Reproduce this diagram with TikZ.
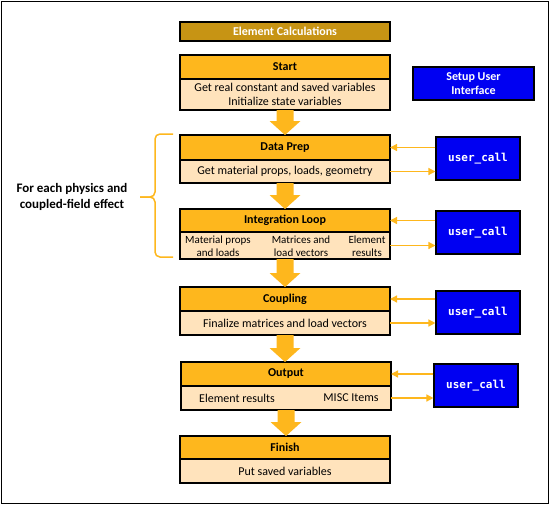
\documentclass[tikz,border=0pt]{standalone}
\usepackage{fontspec}
\setmainfont{Carlito}
\newfontfamily\ucfont{DejaVu Sans Mono}
\usetikzlibrary{positioning,calc,arrows.meta}

\definecolor{hdrgold}{RGB}{254,183,29}
\definecolor{bodytan}{RGB}{255,227,188}
\definecolor{calcgold}{RGB}{199,148,20}
\definecolor{ucblue}{RGB}{0,0,242}

\tikzset{
	hdrbox/.style={draw, line width=1.1pt, fill=hdrgold, minimum width=210pt, minimum height=24pt,
		inner sep=0pt, outer sep=0pt, font=\bfseries\fontsize{12}{14}\selectfont},
	bodybox/.style={draw, line width=1.1pt, fill=bodytan, minimum width=210pt, minimum height=24pt,
		inner sep=0pt, outer sep=0pt, align=center, font=\fontsize{12}{14.5}\selectfont},
	calcbox/.style={draw, line width=1.1pt, fill=calcgold, text=white, minimum width=210pt, minimum height=19pt,
		inner sep=0pt, font=\bfseries\fontsize{12}{14}\selectfont},
	userbox/.style={draw, line width=1.1pt, fill=ucblue, text=white, minimum width=84pt, minimum height=43pt,
		inner sep=0pt, align=center, font=\ucfont\bfseries\fontsize{11}{13}\selectfont},
	celltext/.style={align=center, inner sep=0pt, font=\fontsize{11}{13.5}\selectfont},
	callarrow/.style={draw=hdrgold, line width=1.3pt, -{Triangle[length=7pt,width=7pt]}},
}

% big gold arrow from one box down to the next
\newcommand\flowarrow[2]{%
	\fill[hdrgold] ($(#1.south)+(-8.5,0)$) -- ($(#1.south)+(8.5,0)$)
		-- ($(#1.south |- #2.north)+(8.5,-14)$) -- ($(#1.south |- #2.north)+(15.5,-14)$)
		-- (#1.south |- #2.north)
		-- ($(#1.south |- #2.north)+(-15.5,-14)$) -- ($(#1.south |- #2.north)+(-8.5,-14)$) -- cycle;}

\begin{document}
\begin{tikzpicture}[x=1pt, y=-1pt]
	\useasboundingbox (0,0) rectangle (549,504);
	\draw[line width=1pt] (1,1) rectangle (548,503);
	
	\node[calcbox] (calc) at (285,31.5) {Element Calculations};
	
	\node[hdrbox] (start) at (285,67) {Start};
	\node[bodybox, minimum height=31pt, below=0pt of start] (startb) {Get real constant and saved variables\\Initialize state variables};
	
	\node[hdrbox, minimum height=25pt] (prep) at (285,147.5) {Data Prep};
	\node[bodybox, minimum height=23pt, below=0pt of prep] (prepb) {Get material props, loads, geometry};
	
	\node[hdrbox, minimum height=23pt] (loop) at (285,220.5) {Integration Loop};
	\node[bodybox, minimum height=27pt, below=0pt of loop] (loopb) {};
	\node[celltext] (loopmat) at (218,246) {Material props\\and loads};
	\node[celltext] (loopvec) at (301,246) {Matrices and\\load vectors};
	\node[celltext] (loopres) at (367,246) {Element\\results};
	
	\node[hdrbox] (coup) at (285,299) {Coupling};
	\node[bodybox, below=0pt of coup] (coupb) {Finalize matrices and load vectors};
	
	\node[hdrbox] (out) at (286,374) {Output};
	\node[bodybox, below=0pt of out] (outb) {};
	\node[celltext, font=\fontsize{12}{14}\selectfont] (outres) at (237,398) {Element results};
	\node[celltext, font=\fontsize{12}{14}\selectfont] (outmisc) at (351,398) {MISC Items};
	
	\node[hdrbox, minimum height=23pt] (fin) at (285,447.5) {Finish};
	\node[bodybox, below=0pt of fin] (finb) {Put saved variables};
	
	\flowarrow{startb}{prep}
	\flowarrow{prepb}{loop}
	\flowarrow{loopb}{coup}
	\flowarrow{coupb}{out}
	\flowarrow{outb}{fin}
	
	\node[userbox, font=\bfseries\fontsize{12}{14.5}\selectfont, minimum width=121pt, minimum height=33pt] (setup) at (473.5,83.5) {Setup User\\Interface};
	\node[userbox] (uca) at (478,158.5) {user\_call};
	\node[userbox] (ucb) at (478,232.5) {user\_call};
	\node[userbox] (ucc) at (478,312.5) {user\_call};
	\node[userbox] (ucd) at (476,385.5) {user\_call};
	
	\draw[callarrow] (uca.west |- prep.east) -- (prep.east);
	\draw[callarrow] (prepb.east) -- (uca.west |- prepb.east);
	\draw[callarrow] (ucb.west |- loop.east) -- (loop.east);
	\draw[callarrow] (loopb.east) -- (ucb.west |- loopb.east);
	\draw[callarrow] (ucc.west |- coup.east) -- (coup.east);
	\draw[callarrow] (coupb.east) -- (ucc.west |- coupb.east);
	\draw[callarrow] (ucd.west |- out.east) -- (out.east);
	\draw[callarrow] (outb.east) -- (ucd.west |- outb.east);
	
	% brace round the physics loop
	\coordinate (Bt) at (173,134);
	\coordinate (Bb) at (173,257);
	\coordinate (Bm) at (155,197);
	\coordinate (Bk) at (140,197);
	\draw[hdrgold, line width=1.5pt, rounded corners=5pt] (Bt) -- (Bt -| Bm) -- (Bm) -- (Bk);
	\draw[hdrgold, line width=1.5pt, rounded corners=5pt] (Bk) -- (Bm) -- (Bb -| Bm) -- (Bb);
	\node[align=center, font=\bfseries\fontsize{13}{16}\selectfont] (each) at (72,197) {For each physics and\\coupled-field effect};
\end{tikzpicture}
\end{document}
